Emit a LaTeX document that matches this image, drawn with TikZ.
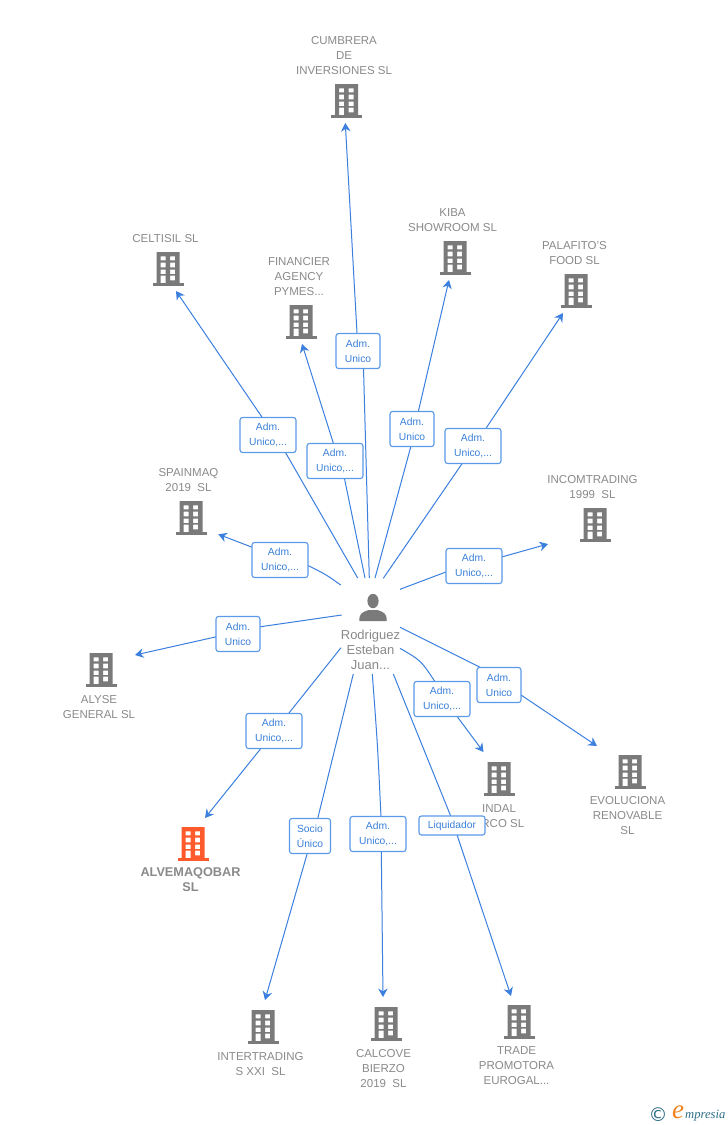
\documentclass[tikz,border=0pt]{standalone}
\usepackage{fontspec}
\setmainfont{Liberation Sans}
\newfontfamily\logofont{Liberation Serif}
\newfontfamily\logosans{DejaVu Sans}
\usetikzlibrary{arrows.meta,calc}
\definecolor{edgeblue}{HTML}{3B7FDF}
\definecolor{boxblue}{HTML}{5A9AE8}
\definecolor{txtblue}{HTML}{3A80D8}
\definecolor{greytxt}{HTML}{8A8A8A}
\definecolor{bldgrey}{HTML}{7A7A7A}
\definecolor{hotbld}{HTML}{FF5A2C}
\definecolor{logoteal}{HTML}{2F6F88}
\definecolor{logoorange}{HTML}{F0821E}
\tikzset{
  bldbox/.style={inner sep=0pt,minimum width=31pt,minimum height=34pt},
  name text/.style={align=center,text=greytxt,inner sep=0pt,font=\fontsize{11.5}{15}\selectfont},
  hot text/.style={name text,font=\fontsize{12.7}{15}\selectfont\bfseries},
  person text/.style={align=center,text=greytxt,inner sep=0pt,font=\fontsize{13}{15}\selectfont},
  rolebox/.style={draw=boxblue,fill=white,rounded corners=2.5pt,line width=1.1pt,text=txtblue,align=center,inner sep=0pt,
     font=\fontsize{10.3}{15}\selectfont,minimum height=35pt},
  wide/.style={rolebox,minimum width=56pt},
  narrow/.style={rolebox,minimum width=44pt},
  link/.style={draw=edgeblue,line width=1pt,-{Stealth[length=8.5pt,width=9.5pt]}},
}
\newcommand{\bld}[3]{%
  \node[bldbox] (#1) at (#2) {};
  \begin{scope}[shift={(#2)}]
    \fill[#3,even odd rule]
      (-11.5,-17) rectangle (11.5,14)
      (-7.5,-12.7) rectangle (-2.5,-8.7) (2,-12.7) rectangle (7,-8.7)
      (-7.5,-6.3) rectangle (-2.5,-1.7) (2,-6.3) rectangle (7,-1.7)
      (-7.5,0.7) rectangle (-2.5,5) (2,0.7) rectangle (7,5)
      (-7.5,6.7) rectangle (-2.5,14) (2,6.7) rectangle (7,11.3);
    \fill[#3] (-15.5,14) rectangle (15.5,17);
  \end{scope}}
% id, start, control, box entry, box exit, tip
\newcommand{\lnk}[6]{%
  \coordinate (s#1) at (#2);
  \coordinate (c#1) at (#3);
  \coordinate (a#1) at (#4);
  \coordinate (b#1) at (#5);
  \coordinate (e#1) at (#6);
  \draw[link] (s#1) .. controls (c#1) .. (a#1) -- (b#1) -- (e#1);}
\begin{document}
\begin{tikzpicture}[x=1pt,y=-1pt]
\useasboundingbox[fill=white] (0,0) rectangle (728,1125);
% buildings
\bld{cumbrera}{346.5,101}{bldgrey}
\bld{celtisil}{168,269}{bldgrey}
\bld{financier}{301,322}{bldgrey}
\bld{kiba}{455,258}{bldgrey}
\bld{palafito}{576,291}{bldgrey}
\bld{spainmaq}{191,518}{bldgrey}
\bld{incom}{595,525}{bldgrey}
\bld{alyse}{101,670}{bldgrey}
\bld{alvema}{193,844}{hotbld}
\bld{inter}{263,1027}{bldgrey}
\bld{calcove}{386,1024}{bldgrey}
\bld{trade}{519,1022}{bldgrey}
\bld{indal}{499,779}{bldgrey}
\bld{evol}{630,772}{bldgrey}
% person
\node[inner sep=0pt,minimum width=28pt,minimum height=27pt] (person) at (373,607.5) {};
\fill[bldgrey] (373,601) ellipse (5.6 and 7.2);
\fill[bldgrey] (359.3,621) .. controls (359.3,613) and (362,612.5) .. (368.5,610) -- (377.5,610) .. controls (384,612.5) and (386.7,613) .. (386.7,621) -- cycle;
% names
\node[name text] (tcumbrera) at (344,56) {CUMBRERA\\DE\\INVERSIONES SL};
\node[name text] (tceltisil) at (165.5,239) {CELTISIL SL};
\node[name text] (tfinancier) at (299,277) {FINANCIER\\AGENCY\\PYMES...};
\node[name text] (tkiba) at (452.5,220.5) {KIBA\\SHOWROOM SL};
\node[name text] (tpalafito) at (574.5,253.5) {PALAFITO'S\\FOOD SL};
\node[name text] (tspainmaq) at (188.5,480.5) {SPAINMAQ\\2019~ SL};
\node[name text] (tincom) at (592.5,487.5) {INCOMTRADING\\1999~ SL};
\node[name text] (talyse) at (99,707.5) {ALYSE\\GENERAL SL};
\node[hot text] (talvema) at (190.5,879.5) {ALVEMAQOBAR\\SL};
\node[name text] (tinter) at (260.5,1064.5) {INTERTRADING\\S XXI~ SL};
\node[name text] (tcalcove) at (383.5,1069) {CALCOVE\\BIERZO\\2019~ SL};
\node[name text] (ttrade) at (516.5,1066) {TRADE\\PROMOTORA\\EUROGAL...};
\node[name text] (tindal) at (499,816.5) {INDAL\\ARCO SL};
\node[name text] (tevol) at (627.5,816) {EVOLUCIONA\\RENOVABLE\\SL};
\node[person text] (tperson) at (370.5,649.8) {Rodriguez\\Esteban\\Juan...};
% connectors
\lnk{1}{369.3,578}{366.8,473}{363.5,368}{357,333}{345.3,123}
\lnk{2}{357.7,578}{321.5,515}{285,451.7}{261.7,416.7}{176,291}
\lnk{3}{365,578}{354,527.8}{344.3,477.7}{333.3,443}{302,344}
\lnk{4}{375,578}{393,512}{411,446}{418.3,411.7}{449,280}
\lnk{5}{383.3,578.3}{423,520.5}{462.7,462.7}{486,428.3}{563,313}
\lnk{6}{340.7,585}{326,574.5}{309,566}{252.3,547.3}{218.3,534.3}
\lnk{7}{400,589.3}{423.3,580.5}{446.7,571.7}{502.7,556.7}{548,544}
\lnk{8}{341.7,615}{301,620}{260.7,626.7}{216.7,636.7}{135,655}
\lnk{9}{341,647.7}{315,680.3}{289,713}{261,748.3}{205,818}
\lnk{10}{353.3,674}{335.5,746.5}{317.6,819}{307.3,853.3}{265,1000}
\lnk{11}{372.3,674}{377.6,745}{381,816.7}{381.3,851.7}{383,997}
\lnk{12}{393.3,674}{422,745}{450.7,816}{457.3,835.7}{511,996}
\lnk{13}{400,648.3}{421,660.5}{435,681.7}{457.3,716.7}{483.5,752}
\lnk{14}{400,627.3}{440,647.3}{480,667.3}{521,695}{597,746}
% role boxes
\node[narrow] (r1) at (358,351) {Adm.\\Unico};
\node[wide] (r2) at (268,435) {Adm.\\Unico,...};
\node[wide] (r3) at (335,461) {Adm.\\Unico,...};
\node[narrow] (r4) at (412,429) {Adm.\\Unico};
\node[wide] (r5) at (473,446) {Adm.\\Unico,...};
\node[wide] (r6) at (280,560) {Adm.\\Unico,...};
\node[wide] (r7) at (474,566) {Adm.\\Unico,...};
\node[narrow] (r8) at (238,634) {Adm.\\Unico};
\node[wide] (r9) at (274,731) {Adm.\\Unico,...};
\node[rolebox,minimum width=41pt] (r10) at (310,836) {Socio\\Único};
\node[wide] (r11) at (378,834) {Adm.\\Unico,...};
\node[rolebox,minimum width=66pt,minimum height=19pt] (r12) at (452,825.5) {Liquidador};
\node[wide] (r13) at (442,699) {Adm.\\Unico,...};
\node[narrow] (r14) at (499,685) {Adm.\\Unico};
% logo
\node[inner sep=0pt,text=logoteal,font=\logosans\fontsize{19}{19}\selectfont] (logoc) at (658,1114.5) {©};
\node[inner sep=0pt,anchor=base,text=logoorange,font=\logofont\itshape\fontsize{27}{27}\selectfont] (logoe) at (678,1118.5) {e};
\node[inner sep=0pt,anchor=base west,text=logoteal,font=\logofont\itshape\fontsize{12.6}{14}\selectfont] (logot) at (685,1118) {mpresia};
\end{tikzpicture}
\end{document}
